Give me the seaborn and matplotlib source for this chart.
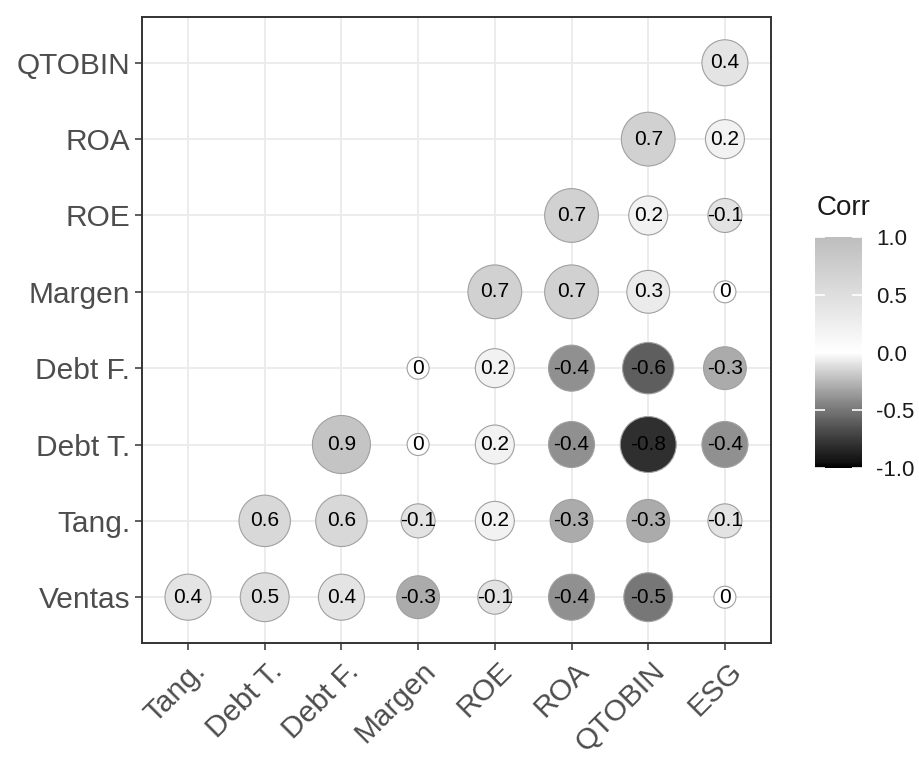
import numpy as np
import pandas as pd
import matplotlib
matplotlib.use("Agg")
import matplotlib.pyplot as plt
import matplotlib.transforms as mtransforms
import seaborn as sns
from matplotlib.colors import LinearSegmentedColormap, Normalize
from matplotlib.cm import ScalarMappable

# variables on each axis (y from bottom to top)
x_vars = ["Tang.", "Debt T.", "Debt F.", "Margen", "ROE", "ROA", "QTOBIN", "ESG"]
y_vars = ["Ventas", "Tang.", "Debt T.", "Debt F.", "Margen", "ROE", "ROA", "QTOBIN"]

# upper-triangle correlations, one list per row (aligned to the right end of x_vars)
ventas = [0.4, 0.5, 0.4, -0.3, -0.1, -0.4, -0.5, 0.0]
tang = [0.6, 0.6, -0.1, 0.2, -0.3, -0.3, -0.1]
debt_t = [0.9, 0.0, 0.2, -0.4, -0.8, -0.4]
debt_f = [0.0, 0.2, -0.4, -0.6, -0.3]
margen = [0.7, 0.7, 0.3, 0.0]
roe = [0.7, 0.2, -0.1]
roa = [0.7, 0.2]
qtobin = [0.4]

rows = [ventas, tang, debt_t, debt_f, margen, roe, roa, qtobin]

# long table
recs = []
for yi, vals in enumerate(rows):
    start = len(x_vars) - len(vals)
    for k, v in enumerate(vals):
        recs.append({"Var1": x_vars[start + k], "Var2": y_vars[yi], "corr": v})
df = pd.DataFrame(recs)
df["xi"] = df["Var1"].map({c: i for i, c in enumerate(x_vars)})
df["yi"] = df["Var2"].map({c: i for i, c in enumerate(y_vars)})
df["abs"] = df["corr"].abs().round(2)
df["lab"] = df["corr"].map(lambda v: f"{v:g}")


# black - white - grey gradient, interpolated on lightness like ggplot
def L_to_gray(L):
    fy = (L + 16) / 116
    Y = fy ** 3 if L > 8 else L / 903.3
    g = 12.92 * Y if Y <= 0.0031308 else 1.055 * Y ** (1 / 2.4) - 0.055
    return (g, g, g)


ts = np.linspace(0, 1, 41)
stops = []
for t in ts:
    if t <= 0.5:
        L = 100 * (t / 0.5)
    else:
        L = 100 - (100 - 76.97) * ((t - 0.5) / 0.5)
    stops.append((t, L_to_gray(L)))
cmap = LinearSegmentedColormap.from_list("bwg", stops)

# circle diameter like ggplot scale_size(range=c(4,10)) -> px, converted to pt^2
amax = df["abs"].max()
size_map = {}
for a in sorted(df["abs"].unique()):
    d_px = 22 + 36 * np.sqrt(a / amax)
    size_map[a] = (d_px * 0.72) ** 2

plt.rcParams["font.family"] = ["Liberation Sans", "DejaVu Sans"]
fig = plt.figure(figsize=(9.19, 7.58), dpi=100)
ax = fig.add_axes([0.1545, 0.1517, 0.6844, 0.8259])

sns.scatterplot(data=df, x="xi", y="yi", hue="corr", size="abs",
                palette=cmap, hue_norm=(-1, 1), sizes=size_map,
                edgecolor="#a0a0a0", linewidth=0.8, legend=False, ax=ax, zorder=3)

for _, r in df.iterrows():
    ax.text(r["xi"], r["yi"], r["lab"], ha="center", va="center",
            fontsize=15, color="black", zorder=4)

ax.set_xlim(-0.6, len(x_vars) - 0.4)
ax.set_ylim(-0.6, len(y_vars) - 0.4)
ax.set_xticks(range(len(x_vars)))
ax.set_xticklabels(x_vars, rotation=45, ha="right", va="top", rotation_mode="anchor")
ax.set_yticks(range(len(y_vars)))
ax.set_yticklabels(y_vars)
ax.set_xlabel("")
ax.set_ylabel("")
ax.tick_params(axis="both", labelsize=21.5, labelcolor="#4d4d4d", color="#333333",
               length=5, width=1.1)
shift = mtransforms.ScaledTranslation(0.03, -0.02, fig.dpi_scale_trans)
for lab in ax.get_xticklabels():
    lab.set_transform(lab.get_transform() + shift)
ax.grid(True, color="#ebebeb", linewidth=1.3, zorder=0)
ax.set_axisbelow(True)
for s in ax.spines.values():
    s.set_color("#333333")
    s.set_linewidth(1.4)

# colour bar
cax = fig.add_axes([0.8868, 0.3826, 0.0511, 0.3047])
sm = ScalarMappable(norm=Normalize(-1, 1), cmap=cmap)
cb = fig.colorbar(sm, cax=cax, ticks=[-1, -0.5, 0, 0.5, 1])
cb.outline.set_visible(False)
cb.ax.set_yticklabels(["-1.0", "-0.5", "0.0", "0.5", "1.0"])
cax.tick_params(axis="y", direction="in", left=True, right=True, color="white",
                length=7, width=1.2, labelsize=16, labelcolor="#1a1a1a", pad=10)
fig.text(0.889, 0.725, "Corr", fontsize=20, color="#1a1a1a", ha="left", va="center")

fig.savefig("out.png", dpi=100)
